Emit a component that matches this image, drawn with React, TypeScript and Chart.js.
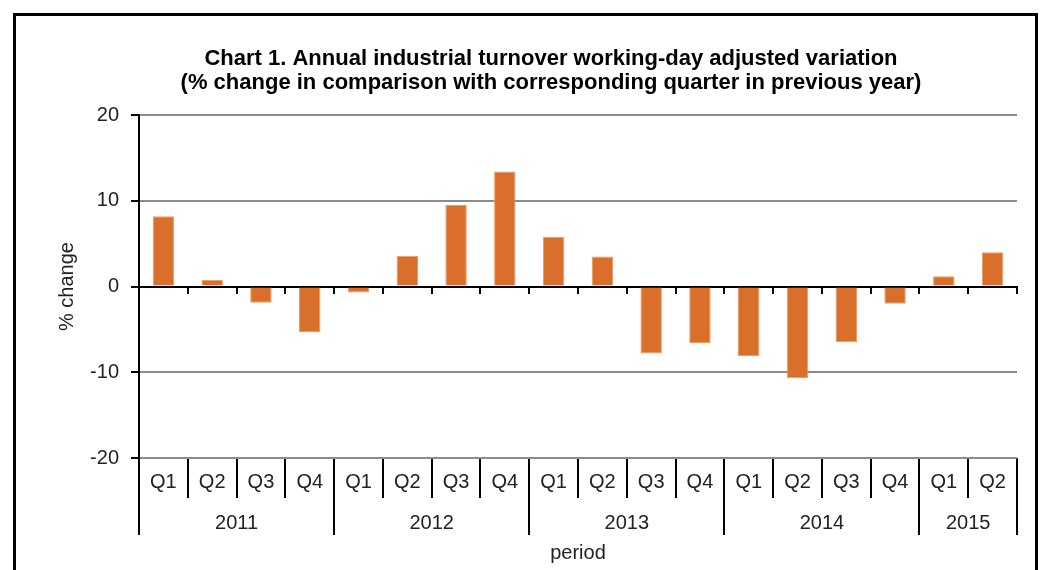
import React, { useEffect, useRef } from 'react';
import { Chart, registerables } from 'chart.js';

Chart.register(...registerables);

// ---------- data ----------
const titleLines = [
  'Chart 1. Annual industrial turnover working-day adjusted variation',
  '(% change in comparison with corresponding quarter in previous year)',
];
const quarterLabels = [
  'Q1', 'Q2', 'Q3', 'Q4',
  'Q1', 'Q2', 'Q3', 'Q4',
  'Q1', 'Q2', 'Q3', 'Q4',
  'Q1', 'Q2', 'Q3', 'Q4',
  'Q1', 'Q2',
];
const yearLabels = ['2011', '2012', '2013', '2014', '2015'];
const quartersPerYear = [4, 4, 4, 4, 2];
const turnoverChange = [
  8.2, 0.8, -1.9, -5.3,
  -0.7, 3.6, 9.5, 13.4,
  5.8, 3.5, -7.8, -6.6,
  -8.1, -10.7, -6.5, -2.0,
  1.2, 4.0,
];
const yMin = -20;
const yMax = 20;
const yStep = 10;
const yTitle = '% change';
const xTitle = 'period';

// ---------- styling ----------
const FONT = '"Liberation Sans", Arial, Helvetica, sans-serif';
const TEXT = '#222222';
const GRID = '#8c8c8c';
const BAR = '#D96F2B';
const BAR_EDGE = '#EC9A64';

// year axis ticks: boundaries (separator lines) and centers (labels)
const yearTicks: { value: number; label: string; boundary: boolean }[] = [];
{
  let start = -0.5;
  yearTicks.push({ value: start, label: '', boundary: true });
  quartersPerYear.forEach((n, i) => {
    yearTicks.push({ value: start + n / 2, label: yearLabels[i], boundary: false });
    start += n;
    yearTicks.push({ value: start, label: '', boundary: true });
  });
}

const titlePlugin = {
  id: 'twoLineTitle',
  afterDraw(chart: any) {
    const ctx = chart.ctx as CanvasRenderingContext2D;
    ctx.save();
    ctx.font = `bold 22px ${FONT}`;
    ctx.fillStyle = '#000';
    ctx.textAlign = 'center';
    ctx.textBaseline = 'alphabetic';
    ctx.fillText(titleLines[0], 551, 65);
    ctx.fillText(titleLines[1], 551, 88.5);
    ctx.restore();
  },
};

export default function App() {
  const ref = useRef<HTMLCanvasElement>(null);

  useEffect(() => {
    if (!ref.current) return;
    const chart = new Chart(ref.current, {
      type: 'bar',
      data: {
        labels: quarterLabels,
        datasets: [
          {
            data: turnoverChange,
            backgroundColor: BAR,
            borderColor: BAR_EDGE,
            borderWidth: 1,
            barPercentage: 0.44,
            categoryPercentage: 1,
          },
        ],
      },
      options: {
        responsive: false,
        animation: false,
        devicePixelRatio: 1,
        layout: { padding: { left: 45, right: 31, top: 115, bottom: 0 } },
        plugins: {
          legend: { display: false },
          title: { display: false },
          tooltip: { enabled: false },
        },
        scales: {
          x: {
            type: 'category',
            position: 'bottom',
            weight: 0,
            offset: true,
            grid: {
              offset: true,
              drawOnChartArea: false,
              drawTicks: true,
              tickLength: 40,
              color: '#000',
              lineWidth: 2,
            },
            border: { display: false },
            ticks: {
              autoSkip: false,
              maxRotation: 0,
              padding: -28,
              color: TEXT,
              font: { family: FONT, size: 20 },
            },
            afterFit: (s: any) => {
              s.height = 40;
            },
          },
          xYear: {
            type: 'linear',
            axis: 'x',
            position: 'bottom',
            weight: 1,
            offset: false,
            min: -0.5,
            max: quarterLabels.length - 0.5,
            afterBuildTicks: (s: any) => {
              s.ticks = yearTicks.map((t) => ({ value: t.value }));
            },
            ticks: {
              autoSkip: false,
              maxRotation: 0,
              padding: -24,
              color: TEXT,
              font: { family: FONT, size: 20 },
              callback: (_v: any, i: number) => yearTicks[i]?.label ?? '',
            },
            grid: {
              offset: false,
              drawOnChartArea: false,
              drawTicks: true,
              tickLength: 37,
              lineWidth: 2,
              color: (c: any) => (yearTicks[c.index]?.boundary ? '#000' : 'rgba(0,0,0,0)'),
            },
            border: { display: false },
            title: {
              display: true,
              text: xTitle,
              color: TEXT,
              font: { family: FONT, size: 20 },
              padding: { top: 0, bottom: 5 },
            },
            afterFit: (s: any) => {
              s.height = 72;
            },
          },
          xZero: {
            type: 'category',
            axis: 'x',
            position: { y: 0 },
            z: 1,
            offset: true,
            grid: {
              offset: true,
              drawOnChartArea: false,
              drawTicks: true,
              tickLength: 6,
              color: '#000',
              lineWidth: 2,
            },
            border: { display: true, color: '#000', width: 2 },
            ticks: { display: false },
          },
          y: {
            type: 'linear',
            position: 'left',
            min: yMin,
            max: yMax,
            ticks: {
              stepSize: yStep,
              padding: 12,
              color: TEXT,
              font: { family: FONT, size: 20 },
            },
            grid: {
              color: (c: any) => (c.tick && c.tick.value === 0 ? 'rgba(0,0,0,0)' : GRID),
              lineWidth: 2,
              drawTicks: true,
              tickLength: 8,
              tickColor: '#000',
              tickWidth: 2,
            },
            border: { display: true, color: '#000', width: 2 },
            title: {
              display: true,
              text: yTitle,
              color: TEXT,
              font: { family: FONT, size: 20 },
              padding: { top: 10, bottom: 0 },
            },
            afterFit: (s: any) => {
              s.width = 94;
            },
          },
        },
      } as any,
      plugins: [titlePlugin],
    });
    return () => chart.destroy();
  }, []);

  return (
    <div
      style={{
        position: 'absolute',
        left: 0,
        top: 0,
        width: 1048,
        height: 570,
        overflow: 'hidden',
        background: '#fff',
      }}
    >
      <div
        style={{
          position: 'absolute',
          left: 13,
          top: 13,
          width: 1025,
          height: 640,
          border: '3px solid #000',
          boxSizing: 'border-box',
        }}
      />
      <canvas
        ref={ref}
        width={1048}
        height={570}
        style={{ position: 'absolute', left: 0, top: 0 }}
      />
    </div>
  );
}
